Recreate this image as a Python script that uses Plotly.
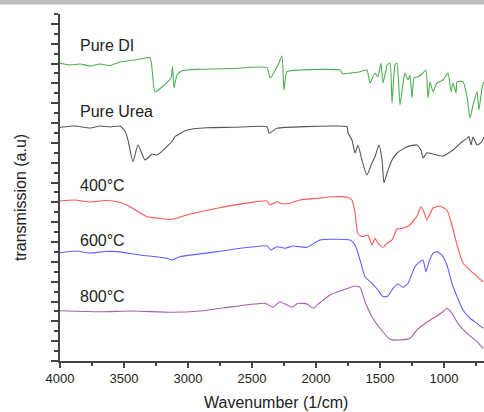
import plotly.graph_objects as go

# ---- data (wavenumber in 1/cm, transmission in arbitrary units, offset per trace) ----
di_wn = [4000, 3922, 3844, 3766, 3688, 3609, 3531, 3414, 3297, 3258, 3133, 3121, 3109, 3086,
         3047, 2906, 2648, 2383, 2359, 2297, 2266, 2250, 2227, 2125, 1813, 1789, 1734, 1656,
         1602, 1578, 1539, 1516, 1492, 1477, 1453, 1445, 1422, 1406, 1383, 1367, 1344, 1320,
         1305, 1281, 1266, 1250, 1234, 1203, 1164, 1141, 1125, 1109, 1086, 1055, 1008, 969,
         945, 930, 906, 898, 852, 820, 797, 773, 742, 727, 703, 688]
di_t = [30.03, 29.86, 29.96, 29.76, 29.96, 29.81, 30.16, 30.36, 30.59, 27.16, 28.55, 29.69, 27.54, 28.85,
        29.28, 29.42, 29.50, 29.59, 28.55, 29.86, 30.77, 27.34, 29.18, 29.35, 29.35, 28.95, 29.05, 29.18,
        29.35, 28.04, 29.05, 28.68, 30.03, 28.04, 29.35, 29.86, 30.03, 26.02, 29.86, 30.06, 25.82, 28.04,
        29.05, 28.34, 28.85, 26.53, 28.55, 28.68, 29.05, 29.35, 26.53, 28.17, 27.16, 28.04, 28.34, 29.05,
        27.16, 28.04, 27.03, 28.17, 28.17, 26.66, 24.51, 25.82, 27.16, 25.32, 27.54, 28.17]

urea_wn = [4000, 3883, 3766, 3688, 3609, 3531, 3492, 3469, 3430, 3391, 3336, 3281, 3242, 3164,
           3117, 3102, 3008, 2852, 2648, 2383, 2367, 2305, 1867, 1758, 1750, 1719, 1695, 1672,
           1641, 1602, 1563, 1539, 1508, 1484, 1469, 1445, 1406, 1367, 1289, 1211, 1180, 1164,
           1133, 1086, 1008, 930, 859, 820, 805, 789, 773, 742, 703, 688]
urea_t = [23.57, 23.70, 23.50, 23.70, 23.60, 23.70, 23.20, 22.29, 20.10, 21.79, 20.27, 20.88, 20.78, 21.62,
          22.29, 22.63, 23.30, 23.53, 23.57, 23.63, 22.97, 23.47, 23.70, 23.63, 23.00, 22.29, 20.98, 21.79,
          20.27, 18.76, 19.97, 20.61, 21.79, 20.27, 17.95, 18.96, 20.27, 20.98, 21.62, 21.79, 21.28, 20.48,
          21.01, 20.88, 20.68, 21.28, 22.12, 22.46, 22.63, 21.79, 22.60, 21.79, 22.12, 22.63]

c400_wn = [4000, 3883, 3766, 3648, 3555, 3477, 3320, 3219, 3125, 3008, 2773, 2516, 2383, 2359,
           2305, 2258, 2203, 2125, 1992, 1867, 1758, 1719, 1695, 1672, 1633, 1594, 1563, 1539,
           1516, 1477, 1445, 1406, 1367, 1320, 1266, 1211, 1180, 1156, 1133, 1086, 1031, 977,
           938, 898, 852, 773, 695]
c400_t = [16.14, 16.24, 16.04, 16.19, 16.07, 15.74, 14.56, 14.39, 14.29, 14.73, 15.40, 15.97, 16.14, 15.74,
          16.07, 15.84, 15.91, 16.24, 16.41, 16.57, 16.51, 16.24, 14.93, 12.81, 12.54, 12.71, 11.70, 12.38,
          11.87, 11.47, 11.87, 12.21, 13.31, 13.39, 13.72, 14.63, 15.53, 15.03, 14.22, 15.43, 15.63, 15.23,
          13.72, 11.70, 9.89, 8.88, 7.97]

c600_wn = [4000, 3883, 3766, 3648, 3555, 3375, 3164, 3125, 3063, 2773, 2383, 2352, 2305, 2242,
           2180, 2070, 1969, 1867, 1734, 1695, 1656, 1617, 1563, 1516, 1477, 1438, 1398, 1359,
           1320, 1281, 1227, 1188, 1164, 1141, 1117, 1086, 1055, 1016, 977, 938, 898, 852,
           797, 742, 695]
c600_t = [10.92, 11.10, 10.89, 11.05, 11.03, 10.69, 10.36, 10.19, 10.52, 11.03, 11.60, 11.20, 11.53, 11.37,
          11.60, 11.47, 12.21, 12.28, 12.21, 11.70, 10.19, 8.50, 7.84, 7.16, 6.49, 6.56, 7.33, 7.77,
          7.43, 7.84, 9.51, 10.02, 10.19, 9.01, 10.02, 10.86, 11.03, 10.69, 9.68, 7.84, 6.49, 5.14,
          4.31, 3.80, 3.30]

c800_wn = [4000, 3688, 3430, 3125, 2906, 2648, 2398, 2336, 2281, 2188, 2141, 2070, 2023, 1969,
           1891, 1789, 1695, 1656, 1617, 1563, 1500, 1422, 1344, 1266, 1211, 1164, 1086, 1008,
           977, 938, 891, 820, 742, 695]
c800_t = [5.07, 4.97, 5.04, 4.91, 5.04, 5.48, 5.82, 5.42, 5.98, 5.42, 5.82, 5.75, 5.32, 5.88,
          6.66, 7.16, 7.57, 7.43, 5.98, 4.47, 3.30, 2.19, 2.12, 2.29, 3.13, 3.63, 4.31, 4.97,
          5.32, 4.81, 3.80, 2.79, 1.95, 1.28]

labels = ["Pure DI", "Pure Urea", "400°C", "600°C", "800°C"]
label_y = [31.87, 25.2, 17.75, 12.2, 6.46]
label_x = 3859

x_ticks = [4000, 3500, 3000, 2500, 2000, 1500, 1000]

series = [
    (di_wn, di_t, "rgb(76,175,80)"),
    (urea_wn, urea_t, "rgb(85,85,85)"),
    (c400_wn, c400_t, "rgb(255,85,85)"),
    (c600_wn, c600_t, "rgb(95,95,255)"),
    (c800_wn, c800_t, "rgb(170,95,170)"),
]

FONT = "Arial, Liberation Sans, Helvetica, sans-serif"

fig = go.Figure()
for (wx, wy, col), name in zip(series, labels):
    fig.add_trace(go.Scatter(x=wx, y=wy, mode="lines", name=name,
                             line=dict(color=col, width=1.1, shape="spline", smoothing=0.5),
                             hoverinfo="skip"))

for txt, yy in zip(labels, label_y):
    fig.add_annotation(x=label_x, y=yy, text=txt, showarrow=False, xanchor="left",
                       yanchor="middle", font=dict(family=FONT, size=16, color="#222"))

# axis titles
fig.add_annotation(xref="paper", yref="paper", x=(276 - 60) / 424, y=-(403 - 361) / 347,
                   text="Wavenumber (1/cm)", showarrow=False, xanchor="center", yanchor="middle",
                   font=dict(family=FONT, size=16, color="#222"))
fig.add_annotation(xref="paper", yref="paper", x=-(60 - 20) / 424, y=(361 - 198) / 347,
                   text="transmission (a.u)", showarrow=False, textangle=-90,
                   xanchor="center", yanchor="middle",
                   font=dict(family=FONT, size=16, color="#222"))

# grey strip at the very top (window border)
fig.add_shape(type="rect", xref="paper", yref="paper", x0=-0.2, x1=1.1,
              y0=1 + 9.5 / 347, y1=1 + 14.5 / 347, line=dict(width=0),
              fillcolor="#bdbdbd", layer="above")

fig.update_layout(
    width=484, height=412,
    margin=dict(l=60, r=0, t=14, b=51),
    paper_bgcolor="white", plot_bgcolor="white",
    showlegend=False,
    xaxis=dict(range=[4000, 687.5], tickvals=x_ticks, ticktext=[str(v) for v in x_ticks],
               ticks="outside", ticklen=5, tickwidth=1.5, tickcolor="#444",
               showline=True, linecolor="#444", linewidth=1.5, showgrid=False, zeroline=False,
               tickfont=dict(family=FONT, size=13, color="#222"),
               minor=dict(dtick=250, tick0=4000, ticks="outside", ticklen=3, tickwidth=1.5,
                          tickcolor="#444", showgrid=False)),
    yaxis=dict(range=[0, 35], dtick=2, tick0=0, ticks="outside", ticklen=7, tickwidth=1.5,
               tickcolor="#444", showticklabels=False,
               showline=True, linecolor="#444", linewidth=1.5, showgrid=False, zeroline=False,
               minor=dict(dtick=1, tick0=0, ticks="outside", ticklen=4, tickwidth=1.5,
                          tickcolor="#444", showgrid=False)),
)

fig.write_html("out.html", config={"displayModeBar": False},
               post_script="document.body.style.margin='0';document.body.style.padding='0';"
                           "document.documentElement.style.overflow='hidden';")
